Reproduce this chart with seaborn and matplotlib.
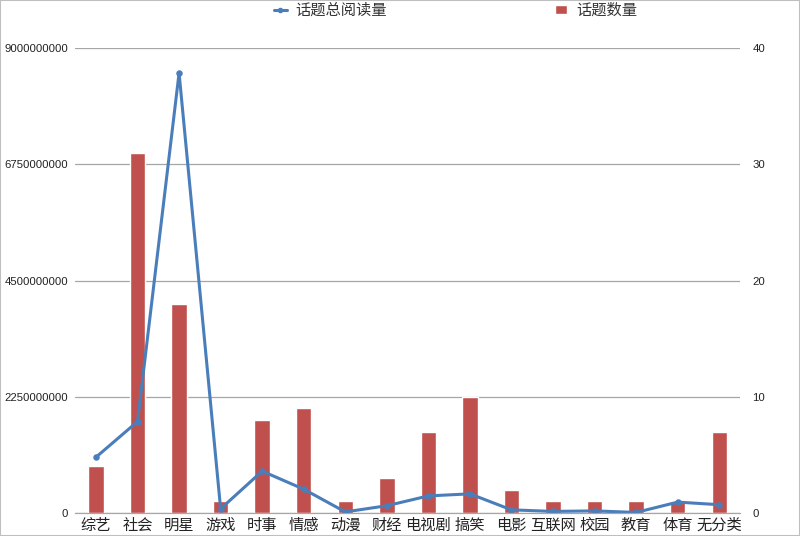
import matplotlib
matplotlib.use("Agg")
import matplotlib.pyplot as plt
import seaborn as sns
import pandas as pd
from matplotlib.ticker import FuncFormatter
from matplotlib.lines import Line2D
from matplotlib.patches import Patch

sns.set_style("white")
plt.rcParams['font.family'] = ['Liberation Sans', 'Noto Sans CJK SC']

categories = ["综艺", "社会", "明星", "游戏", "时事", "情感", "动漫", "财经",
              "电视剧", "搞笑", "电影", "互联网", "校园", "教育", "体育", "无分类"]
topic_counts = [4, 31, 18, 1, 8, 9, 1, 3, 7, 10, 2, 1, 1, 1, 1, 7]
total_reads = [1.08e9, 1.77e9, 8.52e9, 0.08e9, 0.81e9, 0.46e9, 0.02e9, 0.14e9,
               0.33e9, 0.37e9, 0.06e9, 0.03e9, 0.04e9, 0.01e9, 0.21e9, 0.16e9]

line_color = "#4a7ebb"
bar_color = "#c0504d"

data = pd.DataFrame({"cat": categories, "count": topic_counts, "reads": total_reads})

fig = plt.figure(figsize=(8, 5.36), dpi=100)
ax = fig.add_axes([0.094, 0.043, 0.831, 0.867])
ax2 = ax.twinx()

# bars on the right axis, drawn underneath the line
sns.barplot(x="cat", y="count", data=data, ax=ax2, color=bar_color,
            width=0.37, saturation=1)
ax2.set_ylim(0, 40)
ax2.set_yticks([0, 10, 20, 30, 40])

sns.pointplot(x="cat", y="reads", data=data, ax=ax, color=line_color,
              markersize=3, linewidth=2.2)
ax.set_ylim(0, 9e9)
ax.set_yticks([0, 2.25e9, 4.5e9, 6.75e9, 9e9])
ax.yaxis.set_major_formatter(FuncFormatter(lambda v, p: f"{int(round(v))}"))
ax.set_xlim(-0.5, 15.5)

ax.set_zorder(ax2.get_zorder() + 1)
ax.patch.set_visible(False)
ax2.yaxis.grid(True, color="#a6a6a6", linewidth=0.9)
ax2.set_axisbelow(True)

for a in (ax, ax2):
    a.set_xlabel("")
    a.set_ylabel("")
    for s in ("top", "left", "right"):
        a.spines[s].set_visible(False)
    a.spines["bottom"].set_color("#a6a6a6")
    a.tick_params(length=0, labelsize=8.2, colors="#222222")
ax.tick_params(axis="x", labelsize=11, pad=4)
ax.tick_params(axis="y", pad=5)
ax2.tick_params(axis="y", pad=9)

handles = [Line2D([0], [0], color=line_color, marker="o", markersize=3, linewidth=2.2),
           Patch(facecolor=bar_color)]
fig.legend(handles, ["话题总阅读量", "话题数量"], loc="center", ncol=2,
           bbox_to_anchor=(0.57, 0.98), frameon=False, fontsize=11,
           handlelength=0.8, handleheight=0.6, handletextpad=0.6,
           columnspacing=11, labelcolor="#333333")

fig.patches.append(plt.Rectangle((0, 0), 1, 1, transform=fig.transFigure,
                                 fill=False, edgecolor="#bfbfbf", linewidth=1.5))

fig.savefig("out.png", dpi=100)
